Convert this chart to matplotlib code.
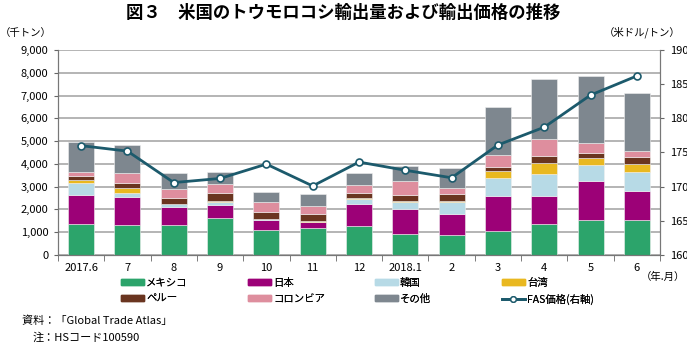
import numpy as np
import matplotlib.pyplot as plt
from matplotlib.lines import Line2D
from matplotlib.patches import Patch

plt.rcParams['font.family'] = ['Noto Sans CJK JP', 'DejaVu Sans']

months = ["2017.6", "7", "8", "9", "10", "11", "12", "2018.1", "2", "3", "4", "5", "6"]

# export volume (thousand tons)
mexico = [1380, 1300, 1300, 1630, 1110, 1200, 1290, 920, 890, 1040, 1380, 1540, 1540]
japan = [1260, 1240, 820, 550, 440, 230, 930, 1110, 930, 1530, 1190, 1710, 1260]
korea = [520, 200, 100, 150, 20, 0, 250, 290, 500, 810, 1000, 690, 840]
taiwan = [120, 220, 40, 50, 30, 80, 40, 40, 50, 290, 470, 330, 370]
peru = [180, 220, 250, 340, 270, 310, 230, 270, 290, 190, 290, 210, 290]
colombia = [170, 400, 370, 400, 440, 350, 340, 620, 300, 520, 780, 440, 250]
others = [1330, 1270, 700, 510, 450, 520, 540, 640, 870, 2100, 2600, 2950, 2570]

# FAS price (USD/ton)
fas = [176.0, 175.2, 170.6, 171.2, 173.3, 170.1, 173.6, 172.4, 171.3, 176.1, 178.7, 183.4, 186.2]

series = [
    ("メキシコ", mexico, "#2ca46b"),
    ("日本", japan, "#9c0177"),
    ("韓国", korea, "#b7dae6"),
    ("台湾", taiwan, "#e9b820"),
    ("ペルー", peru, "#6a3520"),
    ("コロンビア", colombia, "#de8e9e"),
    ("その他", others, "#7e878f"),
]
line_color = "#1c5a6c"

fig = plt.figure(figsize=(6.87, 3.44), dpi=100)
ax = fig.add_axes([0.0844, 0.2587, 0.8763, 0.596])
x = np.arange(len(months))
bottom = np.zeros(len(months))
for name, vals, col in series:
    ax.bar(x, vals, 0.56, bottom=bottom, color=col, edgecolor="#f0f0f0", linewidth=0.4, zorder=2)
    bottom += np.array(vals)

ax.set_xlim(-0.5, len(months) - 0.5)
ax.set_ylim(0, 9000)
ax.set_yticks(np.arange(0, 9001, 1000))
ax.set_yticklabels([f"{v:,}" for v in range(0, 9001, 1000)])
ax.yaxis.grid(True, color="#a8a8a8", linewidth=1.2, zorder=0)
ax.set_axisbelow(True)
ax.set_xticks(x)
ax.set_xticklabels(months)
ax.set_xticks(np.arange(-0.5, len(months), 1), minor=True)
ax.tick_params(axis="x", which="major", length=0, pad=6, labelsize=8)
ax.tick_params(axis="x", which="minor", length=4, color="#666666")
ax.tick_params(axis="y", length=3, color="#666666", labelsize=8, pad=4)
for s in ["left", "right", "bottom"]:
    ax.spines[s].set_color("#777777")
ax.spines["top"].set_visible(False)

ax2 = ax.twinx()
ax2.plot(x, fas, color=line_color, linewidth=2, marker="o", markersize=5,
         markerfacecolor="white", markeredgecolor=line_color, markeredgewidth=1.2, zorder=5)
ax2.set_ylim(160, 190)
ax2.set_yticks(np.arange(160, 191, 5))
ax2.tick_params(axis="y", length=3, color="#666666", labelsize=8, pad=4)
for s in ["left", "right", "bottom"]:
    ax2.spines[s].set_color("#777777")
ax2.spines["top"].set_visible(False)

fig.text(0.5, 0.962, "図３　米国のトウモロコシ輸出量および輸出価格の推移",
         ha="center", va="center", fontsize=12.5, fontweight="bold")
fig.text(0.0, 0.905, "（千トン）", ha="left", va="center", fontsize=7.5)
fig.text(0.99, 0.905, "（米ドル/トン）", ha="right", va="center", fontsize=7.5)
fig.text(0.997, 0.195, "（年.月）", ha="right", va="center", fontsize=7.5)

handles = [Patch(color=c) for _, _, c in series]
handles.append(Line2D([], [], color=line_color, linewidth=2, marker="o", markersize=4,
                      markerfacecolor="white", markeredgecolor=line_color))
labels = [n for n, _, _ in series] + ["FAS価格(右軸)"]
# one small legend per column, two rows each
col_left = [121, 248, 375, 502]
for c in range(4):
    idx = [c, c + 4]
    leg = fig.legend([handles[i] for i in idx], [labels[i] for i in idx],
                     loc="upper left", bbox_to_anchor=(col_left[c] / 687, 0.192),
                     frameon=False, fontsize=7.5, borderpad=0, borderaxespad=0,
                     handlelength=2.2, handleheight=0.45, handletextpad=0.2,
                     labelspacing=0.55)
    fig.add_artist(leg)

fig.text(22 / 687, 1 - 321 / 344, "資料：「Global Trade Atlas」", ha="left", va="center", fontsize=8)
fig.text(33 / 687, 1 - 338 / 344, "注：HSコード100590", ha="left", va="center", fontsize=8)

fig.savefig("out.png", dpi=100)
